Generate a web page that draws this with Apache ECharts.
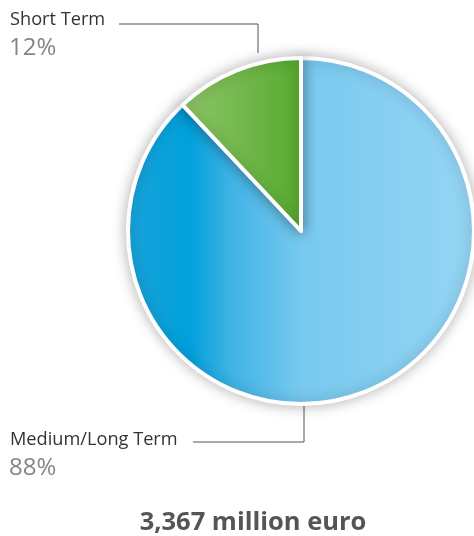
<!DOCTYPE html>
<html><head><meta charset="utf-8">
<script src="https://cdn.jsdelivr.net/npm/echarts@6/dist/echarts.min.js"></script>
<style>html,body{margin:0;padding:0;background:#fff}#c{width:474px;height:536px}</style>
</head><body><div id="c"></div>
<script>
const categories = ['Medium/Long Term', 'Short Term'];
const values = [88, 12];
const totalLabel = '3,367 million euro';

const blueGrad = new echarts.graphic.LinearGradient(0, 0, 1, 0, [
  {offset: 0, color: '#1aa3da'},
  {offset: 0.18, color: '#00a0dc'},
  {offset: 0.3, color: '#3fb3e5'},
  {offset: 0.5, color: '#78c9ef'},
  {offset: 1, color: '#95d5f4'}
]);
const greenGrad = new echarts.graphic.LinearGradient(0, 0, 1, 0, [
  {offset: 0, color: '#8fc66a'},
  {offset: 1, color: '#55aa2e'}
]);
const colors = [blueGrad, greenGrad];

const chart = echarts.init(document.getElementById('c'));
const labelFont = '18.2px "Open Sans", sans-serif';
const pctFont = '24px "Open Sans", sans-serif';
chart.setOption({
  animation: false,
  backgroundColor: '#fff',
  series: [{
    type: 'pie',
    center: [301, 231],
    radius: [0, 173],
    startAngle: 90,
    clockwise: true,
    label: {show: false},
    labelLine: {show: false},
    itemStyle: {borderColor: '#fff', borderWidth: 4, shadowBlur: 14, shadowColor: 'rgba(0,0,0,0.28)'},
    data: categories.map((c, i) => ({name: c, value: values[i], itemStyle: {color: colors[i]}}))
  }],
  graphic: [
    {type: 'text', style: {x: 10, y: 20, text: categories[1], font: labelFont, fill: '#333', verticalAlign: 'middle'}},
    {type: 'text', style: {x: 9, y: 48, text: values[1] + '%', font: pctFont, fill: '#858585', verticalAlign: 'middle'}},
    {type: 'polyline', shape: {points: [[119, 24], [258, 24], [258, 53]]}, style: {stroke: '#555', lineWidth: 1, fill: null}},
    {type: 'text', style: {x: 10, y: 440, text: categories[0], font: labelFont, fill: '#333', verticalAlign: 'middle'}},
    {type: 'text', style: {x: 9, y: 468, text: values[0] + '%', font: pctFont, fill: '#858585', verticalAlign: 'middle'}},
    {type: 'polyline', shape: {points: [[193, 442], [304, 442], [304, 406]]}, style: {stroke: '#555', lineWidth: 1, fill: null}},
    {type: 'text', style: {x: 253, y: 523, text: totalLabel, font: 'bold 25.5px "Open Sans", sans-serif', fill: '#555', align: 'center', verticalAlign: 'middle'}}
  ]
});
</script></body></html>
